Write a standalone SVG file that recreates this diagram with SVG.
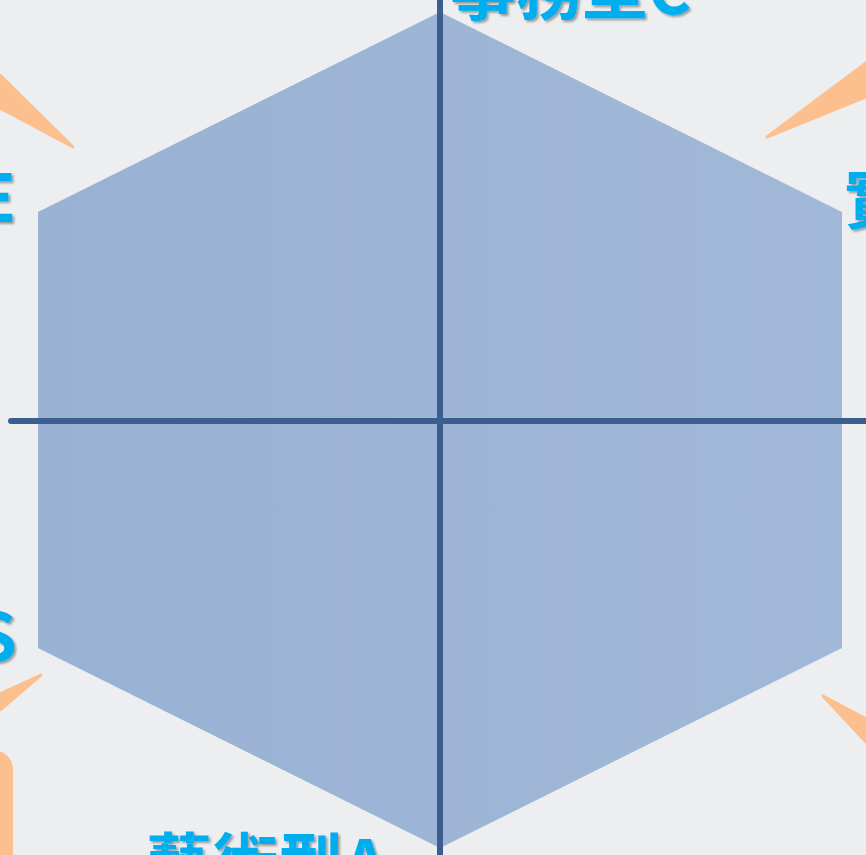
<svg xmlns="http://www.w3.org/2000/svg" width="866" height="855" viewBox="0 0 866 855">
  <style>
    .lbl { font-family: "Noto Sans CJK TC", "Noto Sans CJK SC", "Liberation Sans", sans-serif; font-weight: 700; font-size: 66px; fill: #00aeef; filter: url(#shadow); }
    .tail { fill: #fcbf8e; stroke: #fcbf8e; stroke-width: 3; stroke-linejoin: round; }
    .axis { stroke: #3b5e8e; stroke-width: 6; stroke-linecap: round; fill: none; }
  </style>
  <defs>
    <filter id="shadow" x="-20%" y="-20%" width="140%" height="140%">
      <feDropShadow dx="2" dy="2" stdDeviation="1.2" flood-color="#000" flood-opacity="0.35"/>
    </filter>
    <linearGradient id="hexfill" x1="0" y1="0" x2="1" y2="0">
      <stop offset="0" stop-color="#99b1d3"/>
      <stop offset="1" stop-color="#a1b8d8"/>
    </linearGradient>
  </defs>
  <rect x="0" y="0" width="866" height="855" fill="#edeef0"/>

  <g id="tails">
    <polygon class="tail" points="0,75 73,147 0,108"/>
    <polygon class="tail" points="866,63 767,137 866,97"/>
    <polygon class="tail" points="0,694 41,675 0,710"/>
    <polygon class="tail" points="866,719 823,696 866,742"/>
    <rect x="-40" y="750" width="53" height="200" rx="20" fill="#fcbf8e"/>
  </g>

  <g id="hexagon">
    <polygon points="440,12 842,212 842,648 440,848 38,648 38,212" fill="url(#hexfill)"/>
  </g>

  <g id="connectors">
    <line class="axis" x1="440" y1="-5" x2="440" y2="860"/>
    <line class="axis" x1="11" y1="421" x2="870" y2="421"/>
  </g>

  <g id="label-C"><text class="lbl" x="450" y="14">事務型C</text></g>
  <g id="label-E"><text class="lbl" x="16" y="222" text-anchor="end">E</text></g>
  <g id="label-R"><text class="lbl" x="844" y="223">實</text></g>
  <g id="label-S"><text class="lbl" x="17" y="661" text-anchor="end">S</text></g>
  <g id="label-A"><text class="lbl" x="146" y="888">藝術型A</text></g>
</svg>
